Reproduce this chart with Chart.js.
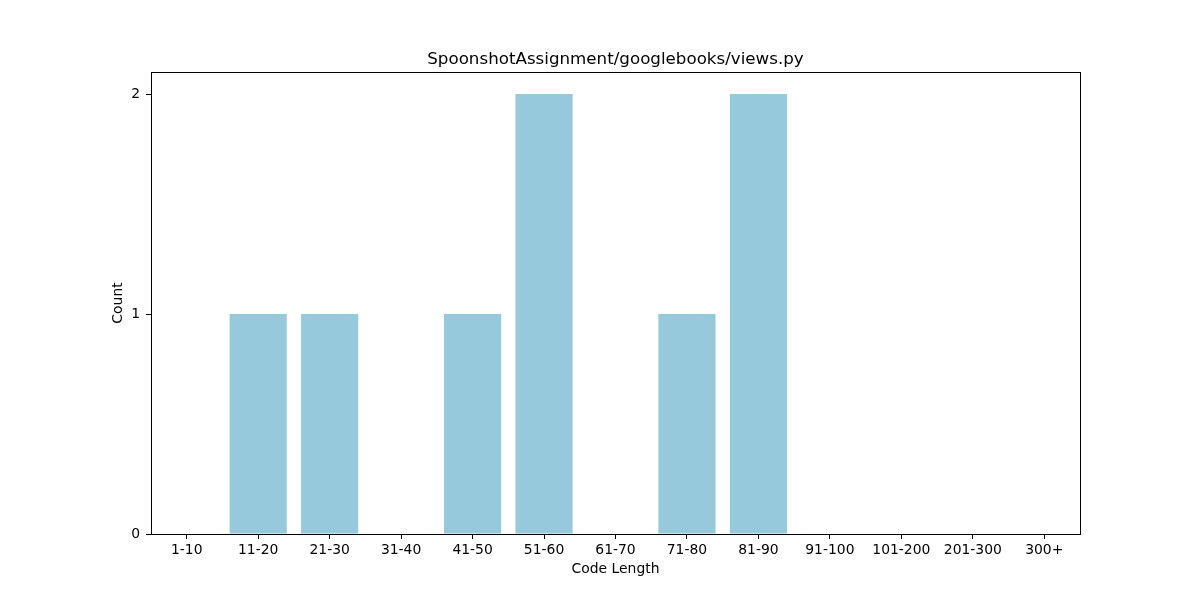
<!DOCTYPE html>
<html>
<head>
<meta charset="utf-8">
<script src="https://cdn.jsdelivr.net/npm/chart.js@4"></script>
<style>
  html, body { margin: 0; padding: 0; background: #fff; }
  #wrap { width: 1200px; height: 600px; }
</style>
</head>
<body>
<div id="wrap"><canvas id="chart" width="1200" height="600"></canvas></div>
<script>
// chart data
const categories = ["1-10", "11-20", "21-30", "31-40", "41-50", "51-60", "61-70",
                    "71-80", "81-90", "91-100", "101-200", "201-300", "300+"];
const counts = [0, 1, 1, 0, 1, 2, 0, 1, 2, 0, 0, 0, 0];
const yTicks = [0, 1, 2];
const chartTitle = "SpoonshotAssignment/googlebooks/views.py";

const FONT = "DejaVu Sans";

// box around the plot area + title centred over it (matplotlib style)
const frame = {
    id: "frame",
    afterDraw(chart) {
        const a = chart.chartArea, ctx = chart.ctx;
        ctx.save();
        ctx.strokeStyle = "#000";
        ctx.lineWidth = 1;
        ctx.strokeRect(Math.round(a.left) + 0.5, Math.round(a.top) + 0.5,
                       Math.round(a.right - a.left), Math.round(a.bottom - a.top));
        ctx.fillStyle = "#000";
        ctx.font = "16.7px '" + FONT + "'";
        ctx.textAlign = "center";
        ctx.textBaseline = "middle";
        ctx.fillText(chartTitle, (a.left + a.right) / 2, a.top - 12);
        ctx.restore();
    }
};

new Chart(document.getElementById("chart"), {
    type: "bar",
    data: {
        labels: categories,
        datasets: [{
            data: counts,
            backgroundColor: "#96c9dc",
            barPercentage: 0.8,
            categoryPercentage: 1.0
        }]
    },
    options: {
        responsive: false,
        animation: false,
        layout: { padding: { left: 0, right: 120, top: 72, bottom: 0 } },
        plugins: {
            legend: { display: false },
            tooltip: { enabled: false },
            title: { display: false }
        },
        scales: {
            x: {
                offset: true,
                grid: { display: true, drawOnChartArea: false, offset: false,
                        tickLength: 5, tickColor: "#000" },
                border: { display: false },
                ticks: { color: "#000", font: { family: FONT, size: 13.9 }, padding: 3,
                         maxRotation: 0, autoSkip: false },
                title: { display: true, text: "Code Length", color: "#000",
                         font: { family: FONT, size: 13.9 }, padding: 22 },
                afterFit(scale) { scale.height = 66; }
            },
            y: {
                min: 0,
                max: 2.1,
                grid: { display: true, drawOnChartArea: false, tickLength: 5, tickColor: "#000" },
                border: { display: false },
                ticks: { color: "#000", font: { family: FONT, size: 13.9 }, padding: 6 },
                afterBuildTicks(scale) { scale.ticks = yTicks.map(v => ({ value: v })); },
                title: { display: true, text: "Count", color: "#000",
                         font: { family: FONT, size: 13.9 }, padding: 110 },
                afterFit(scale) { scale.width = 151; }
            }
        }
    },
    plugins: [frame]
});
</script>
</body>
</html>
